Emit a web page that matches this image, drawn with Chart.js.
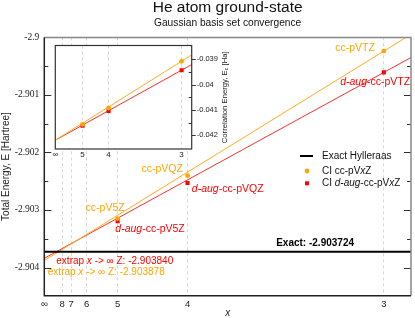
<!DOCTYPE html>
<html>
<head>
<meta charset="utf-8">
<script src="https://cdn.jsdelivr.net/npm/chart.js@4.4.0/dist/chart.umd.min.js"></script>
<style>
  body { margin: 0; background: #fff; }
  #wrap { position: relative; width: 415px; height: 318px; }
  #insetChart { position: absolute; left: 45px; top: 36px; }
</style>
</head>
<body>
<div id="wrap">
  <canvas id="mainChart" width="415" height="318"></canvas>
  <canvas id="insetChart" width="200" height="124"></canvas>
</div>
<script>
// ===== Data =====
const cardinal = [3, 4, 5];   // T, Q, 5
const ccLabels = ['cc-pVTZ', 'cc-pVQZ', 'cc-pV5Z'];
const daugLabels = ['*d-aug*-cc-pVTZ', '*d-aug*-cc-pVQZ', '*d-aug*-cc-pV5Z'];
const ccEnergy = [-2.900238, -2.902403, -2.903149];
const daugEnergy = [-2.900608, -2.902530, -2.903194];
const ccExtrap = -2.903878;
const daugExtrap = -2.903840;
const exactEnergy = -2.903724;
// fitted lines: value at x -> inf, value at right edge of plot
const ccFitEnergy = [ccExtrap, -2.899947];
const daugFitEnergy = [daugExtrap, -2.900350];
// inset, correlation energy
const ccCorr = [-0.039076, -0.040918, -0.041561];
const daugCorr = [-0.039428, -0.041032, -0.041622];
const ccCorrFit = [-0.042189, -0.038824];
const daugCorrFit = [-0.042189, -0.039204];

const xTickCard = [Infinity, 8, 7, 6, 5, 4, 3];
const xTickLabels = ['∞', '8', '7', '6', '5', '4', '3'];
const yTickVals = [-2.904, -2.903, -2.902, -2.901, -2.9];
const insetXCard = [Infinity, 5, 4, 3];
const insetXLabels = ['∞', '5', '4', '3'];
const insetYTickVals = [-0.042, -0.041, -0.04, -0.039];
const xEdge = [0, 0.04];   // axis range, in 1/x^3

const SANS = '"Liberation Sans", Arial, sans-serif';
const ORANGE = '#ffa500';
const RED = '#ff0000';
Chart.defaults.font.family = SANS;
Chart.defaults.color = '#222';

const inv3 = n => 1 / (n * n * n);
const pts = (xs, ys) => xs.map((x, i) => ({ x: x, y: ys[i] }));

// text with *italic* parts
function drawRich(ctx, str, x, y, align, size, color, weight) {
  const parts = str.split('*').map((t, i) => ({ t: t, it: i % 2 === 1 })).filter(p => p.t);
  const fonts = parts.map(p => (p.it ? 'italic ' : '') + (weight || 'normal') + ' ' + size + 'px ' + SANS);
  const w = parts.map((p, i) => { ctx.font = fonts[i]; return ctx.measureText(p.t).width; });
  const total = w.reduce((a, b) => a + b, 0);
  let cx = align === 'right' ? x - total : align === 'center' ? x - total / 2 : x;
  ctx.fillStyle = color;
  ctx.textAlign = 'left';
  ctx.textBaseline = 'middle';
  parts.forEach((p, i) => { ctx.font = fonts[i]; ctx.fillText(p.t, cx, y); cx += w[i]; });
}

// ===== Main chart decorations =====
const ccOff = [[-9, -3, 'right'], [-4.7, -6.7, 'right'], [7, -10.4, 'right']];
const daugOff = [[-8.7, 9.5, 'center'], [4.3, 6, 'left'], [-2.3, 8, 'left']];

const mainDeco = {
  id: 'mainDeco',
  afterDraw(chart) {
    const { ctx, chartArea: a, scales: { x, y } } = chart;
    ctx.save();
    // ticks inward, both sides
    ctx.strokeStyle = '#333';
    ctx.lineWidth = 1;
    yTickVals.forEach((v, i) => {
      const py = Math.round(y.getPixelForValue(v)) + 0.5;
      ctx.beginPath();
      ctx.moveTo(a.left, py); ctx.lineTo(a.left + 7, py);
      ctx.moveTo(a.right, py); ctx.lineTo(a.right - 7, py);
      ctx.stroke();
      if (i < yTickVals.length - 1) {
        const my = Math.round(y.getPixelForValue((v + yTickVals[i + 1]) / 2)) + 0.5;
        ctx.beginPath();
        ctx.moveTo(a.left, my); ctx.lineTo(a.left + 4, my);
        ctx.moveTo(a.right, my); ctx.lineTo(a.right - 4, my);
        ctx.stroke();
      }
    });
    // frame
    ctx.lineWidth = 1.5;
    ctx.strokeStyle = '#888';
    ctx.beginPath();
    ctx.moveTo(a.left, a.top); ctx.lineTo(a.right, a.top); ctx.lineTo(a.right, a.bottom);
    ctx.stroke();
    ctx.strokeStyle = '#222';
    ctx.beginPath();
    ctx.moveTo(a.left, a.top); ctx.lineTo(a.left, a.bottom); ctx.lineTo(a.right, a.bottom);
    ctx.stroke();

    // point labels
    cardinal.forEach((n, i) => {
      const px = x.getPixelForValue(inv3(n));
      const o = ccOff[i];
      drawRich(ctx, ccLabels[i], px + o[0], y.getPixelForValue(ccEnergy[i]) + o[1], o[2], 10.5, ORANGE);
      const d = daugOff[i];
      drawRich(ctx, daugLabels[i], px + d[0], y.getPixelForValue(daugEnergy[i]) + d[1], d[2], 10.5, RED);
    });

    // exact / extrapolated values
    const ey = y.getPixelForValue(exactEnergy);
    drawRich(ctx, 'Exact: ' + exactEnergy.toFixed(6), 354, ey - 8, 'right', 10, '#000', 'bold');
    drawRich(ctx, 'extrap *x* -> ∞ Z: ' + daugExtrap.toFixed(6), a.left + 12, ey + 9.5, 'left', 10, RED);
    drawRich(ctx, 'extrap *x* -> ∞ Z: ' + ccExtrap.toFixed(6), a.left + 3.5, ey + 21, 'left', 10, ORANGE);

    // legend
    ctx.strokeStyle = '#000';
    ctx.lineWidth = 2;
    ctx.beginPath(); ctx.moveTo(300, 156); ctx.lineTo(313, 156); ctx.stroke();
    drawRich(ctx, 'Exact Hylleraas', 322, 156, 'left', 10, '#111');
    ctx.fillStyle = ORANGE;
    ctx.beginPath(); ctx.arc(307, 171, 2.4, 0, Math.PI * 2); ctx.fill();
    drawRich(ctx, 'CI cc-pV*x*Z', 322, 171, 'left', 10, '#111');
    ctx.fillStyle = RED;
    ctx.fillRect(305, 181.3, 4, 4);
    drawRich(ctx, 'CI *d-aug*-cc-pV*x*Z', 322, 183.3, 'left', 10, '#111');
    ctx.restore();
  }
};

new Chart(document.getElementById('mainChart'), {
  type: 'scatter',
  data: {
    datasets: [
      { data: pts(cardinal.map(inv3), ccEnergy), backgroundColor: ORANGE, pointStyle: 'circle', pointRadius: 2.4, pointBorderWidth: 0 },
      { data: pts(cardinal.map(inv3), daugEnergy), backgroundColor: RED, pointStyle: 'rect', pointRadius: 2.9, pointBorderWidth: 0 },
      { data: pts(xEdge, xEdge.map(() => exactEnergy)), showLine: true, borderColor: '#000', borderWidth: 2, pointRadius: 0 },
      { data: pts(xEdge, ccFitEnergy), showLine: true, borderColor: '#ffad20', borderWidth: 1, pointRadius: 0 },
      { data: pts(xEdge, daugFitEnergy), showLine: true, borderColor: '#ff3030', borderWidth: 1, pointRadius: 0 }
    ]
  },
  options: {
    responsive: false,
    animation: false,
    layout: { padding: { left: 0, right: 2.7, top: 0, bottom: 0 } },
    plugins: {
      legend: { display: false },
      tooltip: { enabled: false },
      title: { display: true, fullSize: false, text: 'He atom ground-state', color: '#111', font: { size: 15.5, weight: 'normal', lineHeight: 0.97 }, padding: { top: 0, bottom: 0 } },
      subtitle: { display: true, fullSize: false, text: 'Gaussian basis set convergence', color: '#111', font: { size: 10.2 }, padding: { top: 2.5, bottom: 7.6 } }
    },
    scales: {
      x: {
        type: 'linear', min: xEdge[0], max: xEdge[1],
        afterBuildTicks: s => { s.ticks = xTickCard.map(n => ({ value: inv3(n) })); },
        afterFit: s => { s.height = 22.3; },
        ticks: { autoSkip: false, maxRotation: 0, padding: 2.6, font: { size: 9.5 }, callback: (v, i) => xTickLabels[i] },
        grid: { drawTicks: false, color: c => c.index === 0 ? 'rgba(0,0,0,0)' : '#d6d6d6' },
        border: { display: false, dash: [3, 3] },
        title: { display: true, text: 'x', font: { size: 10, style: 'italic', lineHeight: 0.96 }, padding: 0 }
      },
      y: {
        type: 'linear', min: -2.90449, max: -2.9,
        afterBuildTicks: s => { s.ticks = yTickVals.map(v => ({ value: v })); },
        afterFit: s => { s.width = 44.3; },
        ticks: { padding: 5, font: { size: 9.5, family: '"Liberation Serif", serif' }, callback: v => String(+v.toFixed(3)) },
        grid: { display: false, drawTicks: false },
        border: { display: false },
        title: { display: true, text: 'Total Energy, E [Hartree]', font: { size: 10 }, padding: { top: 0.5, bottom: 0 } }
      }
    }
  },
  plugins: [mainDeco]
});

// ===== Inset: correlation energy =====
const insetDeco = {
  id: 'insetDeco',
  beforeDraw(chart) {
    const { ctx, chartArea: a } = chart;
    ctx.save();
    ctx.fillStyle = '#fff';
    ctx.fillRect(a.left, a.top, a.right - a.left, a.bottom - a.top);
    ctx.restore();
  },
  afterDraw(chart) {
    const { ctx, chartArea: a, scales: { y } } = chart;
    ctx.save();
    ctx.strokeStyle = '#333';
    ctx.lineWidth = 1;
    insetYTickVals.forEach((v, i) => {
      const py = Math.round(y.getPixelForValue(v)) + 0.5;
      ctx.beginPath(); ctx.moveTo(a.right, py); ctx.lineTo(a.right + 4, py); ctx.stroke();
      if (i < insetYTickVals.length - 1) {
        const my = Math.round(y.getPixelForValue((v + insetYTickVals[i + 1]) / 2)) + 0.5;
        ctx.beginPath(); ctx.moveTo(a.right, my); ctx.lineTo(a.right - 3, my); ctx.stroke();
      }
    });
    ctx.lineWidth = 1.2;
    ctx.strokeRect(a.left, a.top, a.right - a.left, a.bottom - a.top);

    // rotated axis title with subscript
    const cy = (a.top + a.bottom) / 2;
    ctx.translate(179.5, cy);
    ctx.rotate(-Math.PI / 2);
    const segs = [['Correlation Energy, E', 7.7, 0], ['c', 5.5, 2], [' [Ha]', 7.7, 0]];
    const w = segs.map(s => { ctx.font = s[1] + 'px ' + SANS; return ctx.measureText(s[0]).width; });
    let cx = -w.reduce((p, q) => p + q, 0) / 2;
    ctx.fillStyle = '#222';
    ctx.textBaseline = 'middle';
    ctx.textAlign = 'left';
    segs.forEach((s, i) => { ctx.font = s[1] + 'px ' + SANS; ctx.fillText(s[0], cx, s[2]); cx += w[i]; });
    ctx.restore();
  }
};

new Chart(document.getElementById('insetChart'), {
  type: 'scatter',
  data: {
    datasets: [
      { data: pts(cardinal.map(inv3), ccCorr), backgroundColor: ORANGE, pointStyle: 'circle', pointRadius: 2.4, pointBorderWidth: 0 },
      { data: pts(cardinal.map(inv3), daugCorr), backgroundColor: RED, pointStyle: 'rect', pointRadius: 2.9, pointBorderWidth: 0 },
      { data: pts(xEdge, ccCorrFit), showLine: true, borderColor: '#ffad20', borderWidth: 1, pointRadius: 0 },
      { data: pts(xEdge, daugCorrFit), showLine: true, borderColor: '#ff3030', borderWidth: 1, pointRadius: 0 }
    ]
  },
  options: {
    responsive: false,
    animation: false,
    layout: { padding: { left: 10.3, right: 0, top: 5, bottom: 0 } },
    plugins: { legend: { display: false }, tooltip: { enabled: false } },
    scales: {
      x: {
        type: 'linear', min: xEdge[0], max: xEdge[1],
        afterBuildTicks: s => { s.ticks = insetXCard.map(n => ({ value: inv3(n) })); },
        afterFit: s => { s.height = 11; },
        ticks: { autoSkip: false, maxRotation: 0, padding: 0.8, font: { size: 8 }, callback: (v, i) => insetXLabels[i] },
        grid: { drawTicks: false, color: c => c.index === 0 ? 'rgba(0,0,0,0)' : '#d6d6d6' },
        border: { display: false, dash: [3, 3] }
      },
      y: {
        type: 'linear', position: 'right', min: -0.042537, max: -0.038451,
        afterBuildTicks: s => { s.ticks = insetYTickVals.map(v => ({ value: v })); },
        afterFit: s => { s.width = 53.3; },
        ticks: { padding: 5, font: { size: 7.5 }, callback: v => String(+v.toFixed(3)) },
        grid: { display: false, drawTicks: false },
        border: { display: false }
      }
    }
  },
  plugins: [insetDeco]
});
</script>
</body>
</html>
